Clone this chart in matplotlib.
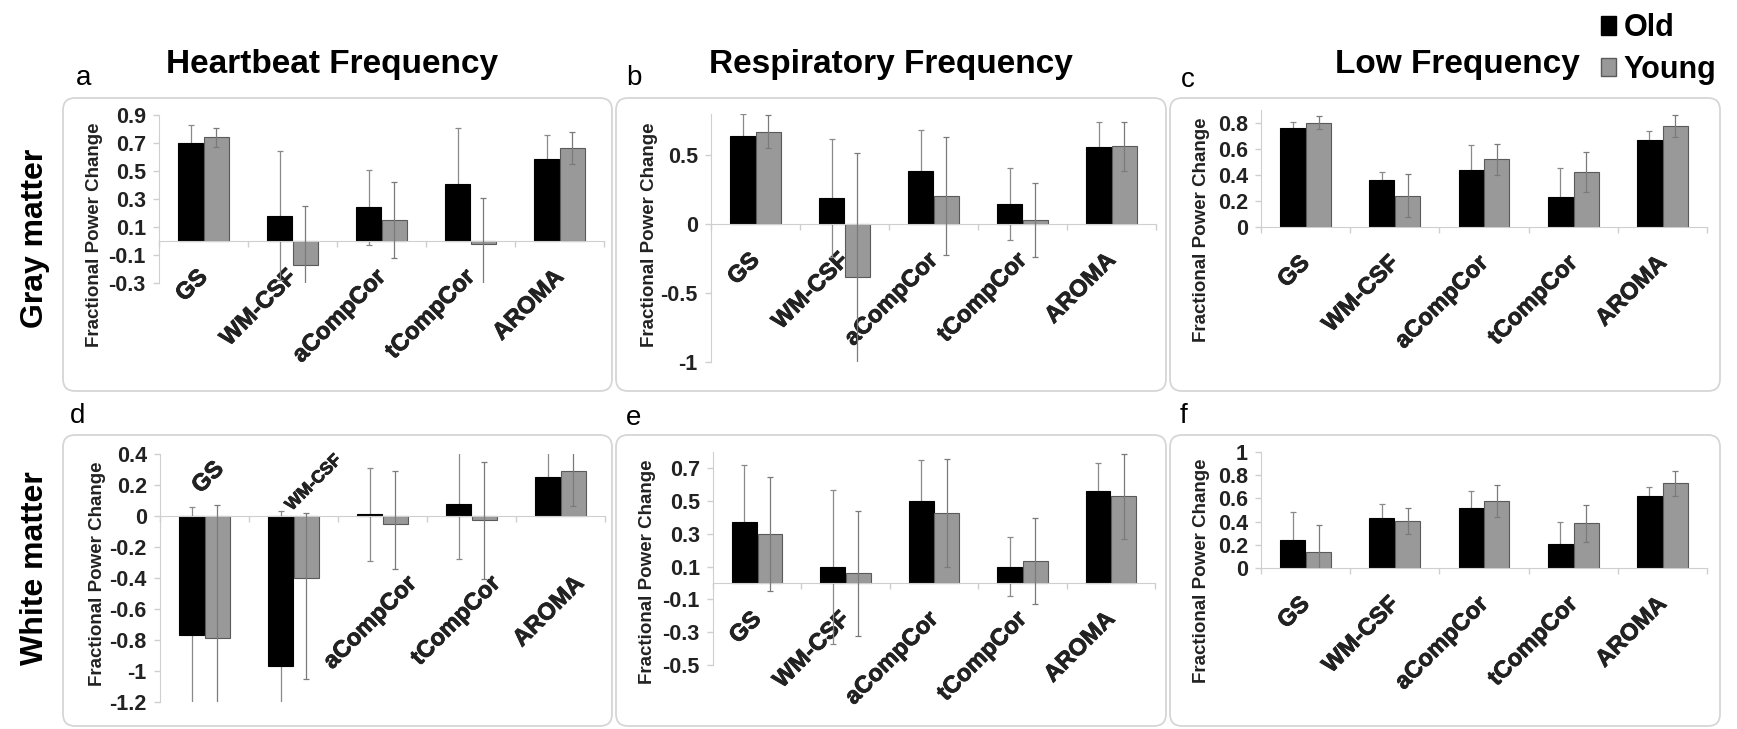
import matplotlib
matplotlib.use("Agg")
import matplotlib.pyplot as plt
import matplotlib.patheffects as pe
import numpy as np
from matplotlib.patches import FancyBboxPatch, Patch
from matplotlib.transforms import offset_copy

plt.rcParams['font.family'] = ['Liberation Sans', 'DejaVu Sans']

categories = ['GS', 'WM-CSF', 'aCompCor', 'tCompCor', 'AROMA']

# a - gray matter, heartbeat
a_old = [0.70, 0.18, 0.24, 0.41, 0.585]
a_old_err = [0.13, 0.46, 0.27, 0.40, 0.175]
a_young = [0.74, -0.17, 0.15, -0.02, 0.665]
a_young_err = [0.07, 0.42, 0.27, 0.33, 0.115]

# b - gray matter, respiratory
b_old = [0.64, 0.19, 0.385, 0.145, 0.56]
b_old_err = [0.16, 0.43, 0.30, 0.26, 0.18]
b_young = [0.67, -0.38, 0.205, 0.03, 0.565]
b_young_err = [0.12, 0.90, 0.43, 0.27, 0.18]

# c - gray matter, low freq
c_old = [0.76, 0.36, 0.44, 0.23, 0.67]
c_old_err = [0.05, 0.06, 0.19, 0.22, 0.07]
c_young = [0.80, 0.24, 0.52, 0.425, 0.78]
c_young_err = [0.05, 0.165, 0.12, 0.155, 0.085]

# d - white matter, heartbeat (young errors are lower / upper)
d_old = [-0.77, -0.97, 0.01, 0.075, 0.25]
d_old_err = [0.83, 1.0, 0.30, 0.35, 0.16]
d_young = [-0.79, -0.40, -0.05, -0.025, 0.29]
d_young_err = [[0.86, 0.65, 0.29, 0.38, 0.225],
               [0.86, 0.42, 0.34, 0.375, 0.225]]

# e - white matter, respiratory
e_old = [0.37, 0.10, 0.50, 0.10, 0.56]
e_old_err = [0.35, 0.47, 0.25, 0.18, 0.17]
e_young = [0.30, 0.06, 0.43, 0.135, 0.53]
e_young_err = [0.35, 0.38, 0.33, 0.26, 0.26]

# f - white matter, low freq
f_old = [0.245, 0.435, 0.515, 0.21, 0.62]
f_old_err = [0.24, 0.12, 0.15, 0.19, 0.08]
f_young = [0.14, 0.405, 0.577, 0.386, 0.73]
f_young_err = [0.23, 0.11, 0.14, 0.16, 0.11]

W, H = 1737, 729
fig = plt.figure(figsize=(W / 100, H / 100), dpi=100)

def fx(x):
    return x / W

def fy(y):
    return 1 - y / H

def box(l, t, r, b):
    p = FancyBboxPatch((l / 100, (H - b) / 100), (r - l) / 100, (b - t) / 100,
                       boxstyle='round,pad=0,rounding_size=0.12',
                       transform=fig.dpi_scale_trans, fc='white', ec='#d6d6d6',
                       lw=1.3, zorder=-5)
    fig.add_artist(p)

for l, r in [(63, 612), (616, 1166), (1170, 1720)]:
    box(l, 98, r, 391)
    box(l, 435, r, 726)

gray_line = '#cfcfcf'
txt_col = '#222222'
heavy = [pe.withStroke(linewidth=0.6, foreground=txt_col)]

def panel(rect, lab_xy, old, old_err, young, young_err, ylim, ticks, special=False):
    l, t, r, b = rect
    ax = fig.add_axes([fx(l), fy(b), fx(r - l), (b - t) / H])
    ax.set_facecolor('none')
    x = np.arange(len(categories))
    w = 0.28
    ax.bar(x - w / 2 - 0.005, old, w, color='black', edgecolor='black', lw=0.8, zorder=2)
    ax.bar(x + w / 2 + 0.005, young, w, color='#999999', edgecolor='#5a5a5a', lw=0.8, zorder=2)
    # old error bars sit behind the black bars, young ones on top
    ax.errorbar(x - w / 2 - 0.005, old, yerr=old_err, fmt='none', ecolor='#8a8a8a',
                elinewidth=0.9, capsize=2.5, capthick=0.9, zorder=1.5)
    ax.errorbar(x + w / 2 + 0.005, young, yerr=young_err, fmt='none', ecolor='#7a7a7a',
                elinewidth=0.9, capsize=2.5, capthick=0.9, zorder=3)
    ax.set_xlim(-0.5, len(categories) - 0.5)
    ax.set_ylim(*ylim)
    ax.set_yticks(ticks)
    ax.set_yticklabels(['%g' % (round(v, 2) + 0.0) for v in ticks])
    ax.set_xticks(np.arange(len(categories) + 1) - 0.5)
    ax.set_xticklabels([])
    for s in ['top', 'right']:
        ax.spines[s].set_visible(False)
    ax.spines['left'].set_color(gray_line)
    ax.spines['bottom'].set_color(gray_line)
    ax.spines['bottom'].set_position(('data', 0))
    ax.tick_params(axis='both', colors=gray_line, length=4, width=1)
    ax.tick_params(axis='y', labelcolor=txt_col, labelsize=15.5, pad=5.5)
    for tl in ax.get_yticklabels():
        tl.set_fontweight('bold')
    ax.set_ylabel('Fractional Power Change', fontsize=13.5, fontweight='bold',
                  color=txt_col, va='center', ha='center')
    ax.yaxis.set_label_coords((lab_xy[0] - l) / (r - l), (b - lab_xy[1]) / (b - t))
    if not special:
        tr = offset_copy(ax.transData, fig=fig, x=-5.5, y=-17.5, units='points')
        for i, c in enumerate(categories):
            ax.text(i, 0, c, transform=tr, rotation=45, rotation_mode='anchor',
                    ha='right', va='top', fontsize=17, fontweight='bold',
                    color=txt_col, zorder=1, path_effects=heavy)
    return ax

ax_a = panel((159, 115, 604, 283), (95, 235), a_old, a_old_err, a_young, a_young_err,
             (-0.3, 0.9), np.arange(-0.3, 0.91, 0.2))
ax_b = panel((711, 114, 1156, 362), (649, 235), b_old, b_old_err, b_young, b_young_err,
             (-1, 0.8), [-1, -0.5, 0, 0.5])
ax_c = panel((1261, 110, 1707, 227), (1202, 230), c_old, c_old_err, c_young, c_young_err,
             (0, 0.9), np.arange(0, 0.81, 0.2))
ax_d = panel((160, 454, 605, 702), (97, 574), d_old, d_old_err, d_young, d_young_err,
             (-1.2, 0.4), np.arange(-1.2, 0.41, 0.2), special=True)
ax_e = panel((713, 452, 1155, 665), (647, 572), e_old, e_old_err, e_young, e_young_err,
             (-0.5, 0.8), np.arange(-0.5, 0.71, 0.2))
ax_f = panel((1261, 452, 1707, 568), (1201, 571), f_old, f_old_err, f_young, f_young_err,
             (0, 1), np.arange(0, 1.01, 0.2))

# panel d has hand-placed category labels
d_dx = [0.085, 0.45, 0.25, 0.19, 0.13]
d_y = [0.38, 0.41, -0.36, -0.36, -0.36]
d_fs = [17, 12.5, 17, 17, 17]
for i, c in enumerate(categories):
    ax_d.text(i + d_dx[i], d_y[i], c, rotation=45, rotation_mode='anchor',
              ha='right', va='top', fontsize=d_fs[i], fontweight='bold',
              color=txt_col, zorder=1, path_effects=heavy)

# panel letters and titles
for s, (x, y) in zip('abcdef', [(84, 78), (634, 78), (1188, 80), (78, 416), (634, 418), (1183, 416)]):
    fig.text(fx(x), fy(y), s, fontsize=20, ha='center', va='center')
for s, (x, y) in zip(['Heartbeat Frequency', 'Respiratory Frequency', 'Low Frequency'],
                     [(332, 65), (891, 65), (1457, 65)]):
    fig.text(fx(x), fy(y), s, fontsize=24, fontweight='bold', ha='center', va='center')

fig.text(fx(35), fy(238), 'Gray matter', rotation=90, fontsize=23, fontweight='bold',
         ha='center', va='center')
fig.text(fx(35), fy(568), 'White matter', rotation=90, fontsize=23, fontweight='bold',
         ha='center', va='center')

handles = [Patch(facecolor='black', edgecolor='black'),
           Patch(facecolor='#999999', edgecolor='#5a5a5a')]
fig.legend(handles, ['Old', 'Young'], loc='upper right', bbox_to_anchor=(fx(1735), fy(-5)),
           frameon=False, prop={'weight': 'bold', 'size': 22}, handlelength=0.5,
           handleheight=0.55, handletextpad=0.25, labelspacing=0.38, borderpad=0.1)

fig.savefig('out.png', dpi=100)
